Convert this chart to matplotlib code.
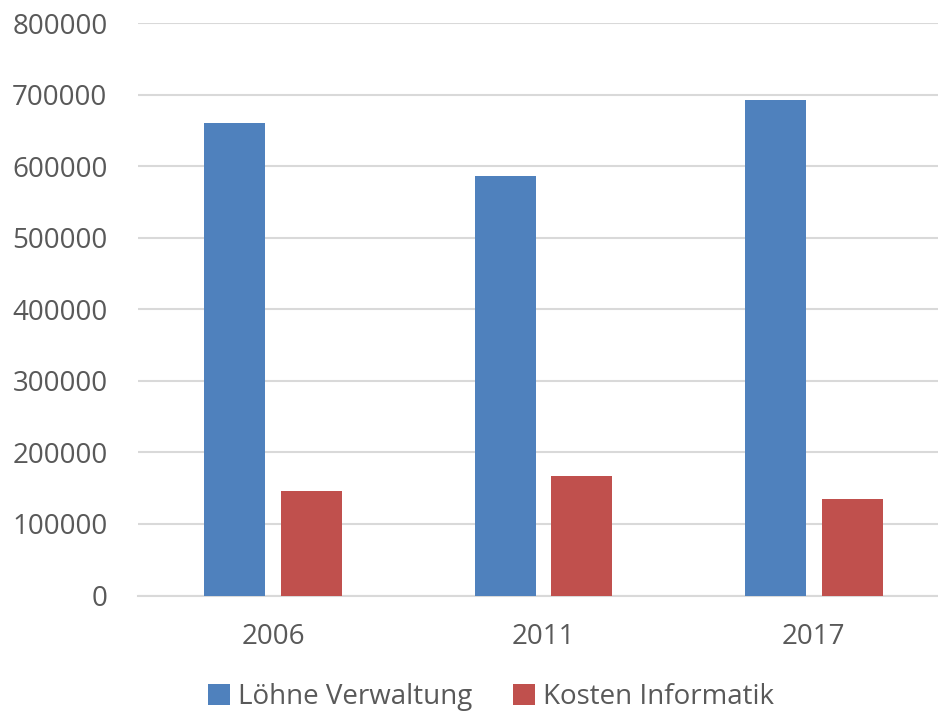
import matplotlib
matplotlib.use("Agg")
import matplotlib.pyplot as plt
import numpy as np

categories = ["2006", "2011", "2017"]
loehne = [660000, 586000, 693000]
kosten = [146000, 167000, 135000]
series_names = ["Löhne Verwaltung", "Kosten Informatik"]
yticks = [0, 100000, 200000, 300000, 400000, 500000, 600000, 700000, 800000]

plt.rcParams['font.family'] = ['Open Sans', 'DejaVu Sans']
text_color = "#595959"

fig = plt.figure(figsize=(9.38, 7.14), dpi=100)
W, H = 938, 714
ax = fig.add_axes([138 / W, (H - 595.5) / H, (949 - 138) / W, (595.5 - 23) / H])

x = np.arange(len(categories))
w = 0.2255
off = 0.1423
ax.bar(x - off, loehne, width=w, color="#4f81bd", label=series_names[0], zorder=3)
ax.bar(x + off, kosten, width=w, color="#c0504d", label=series_names[1], zorder=3)

ax.set_xlim(-0.5, 2.5)
ax.set_ylim(0, 800000)
ax.set_yticks(yticks)
ax.set_yticklabels([str(v) for v in yticks])
ax.set_xticks(x)
ax.set_xticklabels(categories)
ax.yaxis.grid(True, color="#d9d9d9", linewidth=1.5, zorder=0)
ax.set_axisbelow(True)
for s in ["top", "right", "left"]:
    ax.spines[s].set_visible(False)
ax.spines["bottom"].set_color("#d9d9d9")
ax.spines["bottom"].set_linewidth(1.5)
ax.tick_params(axis="both", length=0, labelsize=20, colors=text_color)
ax.tick_params(axis="y", pad=22)
ax.tick_params(axis="x", pad=20)

leg = fig.legend(loc="center", bbox_to_anchor=(491 / W, (H - 697) / H), ncol=2,
                 frameon=False, fontsize=20, handlelength=0.8, handleheight=0.8,
                 handletextpad=0.3, columnspacing=1.45, labelcolor=text_color)

fig.savefig("out.png", dpi=100)
